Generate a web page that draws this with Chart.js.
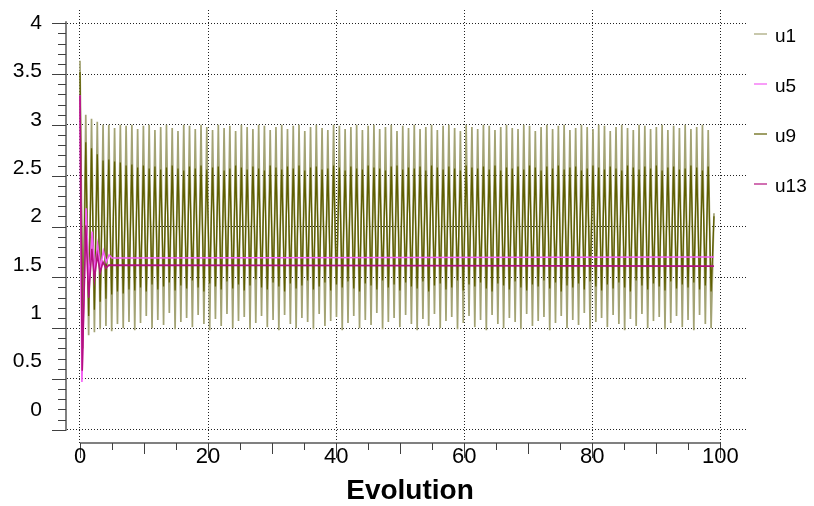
<!DOCTYPE html>
<html>
<head>
<meta charset="utf-8">
<title>Evolution</title>
<script src="https://cdn.jsdelivr.net/npm/chart.js@4/dist/chart.umd.min.js"></script>
<style>
  body { margin: 0; background: #fff; }
  canvas { display: block; }
</style>
</head>
<body>
<canvas id="evolutionChart" width="814" height="506"></canvas>
<script>
// sample times shared by u1 and u9 (one peak or one trough per entry)
const timeSteps = [
  0,0.45,0.9,1.35,1.8,2.25,2.7,3.15,3.6,4.05,4.5,4.95,5.4,5.85,6.3,6.75,7.2,7.65,8.1,8.55,
  9,9.45,9.9,10.35,10.8,11.25,11.7,12.15,12.6,13.05,13.5,13.95,14.4,14.85,15.3,15.75,16.2,16.65,17.1,17.55,
  18,18.45,18.9,19.35,19.8,20.25,20.7,21.15,21.6,22.05,22.5,22.95,23.4,23.85,24.3,24.75,25.2,25.65,26.1,26.55,
  27,27.45,27.9,28.35,28.8,29.25,29.7,30.15,30.6,31.05,31.5,31.95,32.4,32.85,33.3,33.75,34.2,34.65,35.1,35.55,
  36,36.45,36.9,37.35,37.8,38.25,38.7,39.15,39.6,40.05,40.5,40.95,41.4,41.85,42.3,42.75,43.2,43.65,44.1,44.55,
  45,45.45,45.9,46.35,46.8,47.25,47.7,48.15,48.6,49.05,49.5,49.95,50.4,50.85,51.3,51.75,52.2,52.65,53.1,53.55,
  54,54.45,54.9,55.35,55.8,56.25,56.7,57.15,57.6,58.05,58.5,58.95,59.4,59.85,60.3,60.75,61.2,61.65,62.1,62.55,
  63,63.45,63.9,64.35,64.8,65.25,65.7,66.15,66.6,67.05,67.5,67.95,68.4,68.85,69.3,69.75,70.2,70.65,71.1,71.55,
  72,72.45,72.9,73.35,73.8,74.25,74.7,75.15,75.6,76.05,76.5,76.95,77.4,77.85,78.3,78.75,79.2,79.65,80.1,80.55,
  81,81.45,81.9,82.35,82.8,83.25,83.7,84.15,84.6,85.05,85.5,85.95,86.4,86.85,87.3,87.75,88.2,88.65,89.1,89.55,
  90,90.45,90.9,91.35,91.8,92.25,92.7,93.15,93.6,94.05,94.5,94.95,95.4,95.85,96.3,96.75,97.2,97.65,98.1,98.55,
  99
];

const u1Peaks = [
  3.63,3.10,3.06,3.03,3.00,3.00,2.97,3.00,2.99,3.00,
  2.96,2.99,3.00,2.95,2.98,3.00,2.97,2.94,3.00,2.99,
  2.96,3.00,2.98,2.95,3.00,2.97,2.99,2.94,3.00,2.98,
  2.96,3.00,2.99,2.95,2.98,3.00,2.96,2.99,3.00,2.94,
  2.98,3.00,2.97,2.95,3.00,2.99,2.96,2.98,3.00,2.95,
  2.99,3.00,2.96,2.98,3.00,2.94,2.99,2.97,3.00,2.96,
  2.98,3.00,2.95,2.99,3.00,2.97,2.94,3.00,2.98,2.96,
  3.00,2.99,2.95,2.98,3.00,2.97,2.96,3.00,2.99,2.94,
  2.98,3.00,2.96,2.99,3.00,2.95,2.97,3.00,2.98,2.96,
  3.00,2.99,2.94,2.98,3.00,2.97,2.95,3.00,2.99,2.96,
  2.98,3.00,2.95,2.99,2.97,3.00,2.96,2.98,3.00,2.95,
  2.13
];
const u1Troughs = [
  0.88,0.93,0.96,0.99,1.02,0.97,1.04,1.00,1.06,0.98,
  1.05,1.12,1.00,1.08,1.03,1.15,0.99,1.06,1.10,1.01,
  1.13,1.04,0.98,1.09,1.02,1.14,1.00,1.07,1.11,0.99,
  1.05,1.12,1.01,1.08,0.98,1.13,1.04,1.00,1.10,1.06,
  0.99,1.14,1.02,1.07,1.11,0.98,1.05,1.12,1.00,1.08,
  1.03,1.15,0.99,1.06,1.10,1.01,1.13,1.04,0.98,1.09,
  1.02,1.14,1.00,1.07,1.11,0.99,1.05,1.12,1.01,1.08,
  0.98,1.13,1.04,1.00,1.10,1.06,0.99,1.14,1.02,1.07,
  1.11,0.98,1.05,1.12,1.00,1.08,1.03,1.15,0.99,1.06,
  1.10,1.01,1.13,1.04,0.98,1.09,1.02,1.14,1.00,1.07,
  1.11,0.99,1.05,1.12,1.01,1.08,0.98,1.13,1.04,1.00
];

const u9Peaks = [
  3.52,2.83,2.77,2.71,2.65,2.66,2.64,2.63,2.60,2.61,
  2.58,2.60,2.57,2.59,2.56,2.58,2.60,2.57,2.55,2.59,
  2.57,2.60,2.56,2.58,2.59,2.55,2.57,2.60,2.58,2.56,
  2.59,2.57,2.55,2.60,2.58,2.56,2.59,2.57,2.60,2.55,
  2.58,2.59,2.56,2.57,2.60,2.58,2.55,2.59,2.57,2.56,
  2.60,2.58,2.57,2.55,2.59,2.60,2.56,2.58,2.57,2.59,
  2.55,2.60,2.58,2.56,2.59,2.57,2.55,2.60,2.58,2.57,
  2.59,2.56,2.60,2.55,2.58,2.57,2.59,2.56,2.60,2.58,
  2.55,2.59,2.57,2.60,2.56,2.58,2.59,2.55,2.57,2.60,
  2.58,2.56,2.59,2.57,2.55,2.60,2.58,2.56,2.59,2.57,
  2.60,2.55,2.58,2.59,2.56,2.57,2.60,2.58,2.55,2.59,
  2.10
];
const u9Troughs = [
  0.80,1.12,1.18,1.26,1.29,1.33,1.36,1.34,1.38,1.37,
  1.40,1.36,1.43,1.38,1.41,1.45,1.37,1.42,1.39,1.47,
  1.40,1.36,1.44,1.41,1.38,1.46,1.39,1.43,1.37,1.42,
  1.48,1.40,1.38,1.45,1.41,1.36,1.44,1.39,1.42,1.47,
  1.38,1.41,1.45,1.37,1.43,1.40,1.46,1.39,1.36,1.44,
  1.42,1.38,1.47,1.40,1.43,1.37,1.45,1.41,1.39,1.46,
  1.36,1.42,1.44,1.38,1.40,1.47,1.37,1.43,1.41,1.45,
  1.39,1.36,1.44,1.42,1.38,1.46,1.40,1.37,1.43,1.41,
  1.47,1.39,1.45,1.36,1.42,1.40,1.44,1.38,1.46,1.41,
  1.37,1.43,1.39,1.45,1.40,1.36,1.47,1.42,1.38,1.44,
  1.41,1.37,1.46,1.39,1.43,1.40,1.45,1.38,1.42,1.36
];

const u5Times  = [0, 0.3, 0.95, 1.4, 1.9, 2.3, 2.75, 3.2, 3.65, 4.1, 4.55, 5.0, 99];
const u5Values = [3.29, 0.47, 2.18, 1.45, 1.95, 1.55, 1.82, 1.60, 1.76, 1.65, 1.72, 1.69, 1.70];

const u13Times  = [0, 0.35, 0.9, 1.35, 1.85, 2.25, 2.7, 3.15, 3.6, 4.05, 4.5, 99];
const u13Values = [3.29, 0.58, 2.01, 1.30, 1.78, 1.48, 1.72, 1.55, 1.65, 1.59, 1.62, 1.61];

const xTicks = [0, 20, 40, 60, 80, 100];
const yTicks = [0, 0.5, 1, 1.5, 2, 2.5, 3, 3.5, 4];
const yTickLabels = ['0', '0.5', '1', '1.5', '2', '2.5', '3', '3.5', '4'];
const xTitle = 'Evolution';

const FONT = '"Liberation Sans", Arial, sans-serif';

function zigzag(peaks, troughs) {
    return timeSteps.map((t, i) => ({
        x: t,
        y: i % 2 === 0 ? peaks[i / 2] : troughs[(i - 1) / 2]
    }));
}

function pairs(times, values) {
    return times.map((t, i) => ({ x: t, y: values[i] }));
}

// axes, labels, title and legend drawn in the old plotting-tool style
const axesPlugin = {
    id: 'oldAxes',
    afterDraw(chart) {
        const ctx = chart.ctx;
        const a = chart.chartArea;
        const x = chart.scales.x;
        const y = chart.scales.y;
        const yl = chart.scales.yl;
        ctx.save();

        // y axis
        ctx.strokeStyle = '#808080';
        ctx.lineWidth = 2;
        ctx.beginPath();
        ctx.moveTo(a.left - 1, y.getPixelForValue(4) - 2);
        ctx.lineTo(a.left - 1, y.getPixelForValue(0) + 1);
        ctx.stroke();
        ctx.strokeStyle = '#404040';
        ctx.lineWidth = 1;
        for (let k = 0; k <= 40; k++) {
            const py = Math.round(y.getPixelForValue(k / 10)) + 0.5;
            const len = k % 5 === 0 ? 15 : 9;
            ctx.beginPath();
            ctx.moveTo(a.left - len, py);
            ctx.lineTo(a.left - 1, py);
            ctx.stroke();
        }
        ctx.fillStyle = '#000';
        ctx.font = '21px ' + FONT;
        ctx.textAlign = 'right';
        ctx.textBaseline = 'middle';
        yTicks.forEach((v, i) => {
            ctx.fillText(yTickLabels[i], a.left - 25, yl.getPixelForValue(v));
        });

        // x axis
        ctx.strokeStyle = '#808080';
        ctx.lineWidth = 2;
        ctx.beginPath();
        ctx.moveTo(x.getPixelForValue(0), a.bottom);
        ctx.lineTo(x.getPixelForValue(100), a.bottom);
        ctx.stroke();
        ctx.strokeStyle = '#404040';
        ctx.lineWidth = 1;
        for (let k = 0; k <= 20; k++) {
            const v = k * 5;
            const px = Math.round(x.getPixelForValue(v)) + 0.5;
            const len = v % 20 === 0 ? 15 : (v % 10 === 0 ? 11 : 7);
            ctx.beginPath();
            ctx.moveTo(px, a.bottom);
            ctx.lineTo(px, a.bottom + len);
            ctx.stroke();
        }
        ctx.font = '22px ' + FONT;
        ctx.textAlign = 'center';
        ctx.textBaseline = 'top';
        xTicks.forEach(v => {
            ctx.fillText(String(v), x.getPixelForValue(v), a.bottom + 3);
        });

        // axis title
        ctx.font = 'bold 28px ' + FONT;
        ctx.textBaseline = 'alphabetic';
        ctx.fillText(xTitle, chart.width / 2 + 3, a.bottom + 56);

        // legend
        ctx.font = '19px ' + FONT;
        ctx.textAlign = 'left';
        ctx.textBaseline = 'middle';
        chart.data.datasets.forEach((ds, i) => {
            const rowY = a.top + 27 + i * 50;
            ctx.strokeStyle = ds.borderColor;
            ctx.lineWidth = 1.2;
            ctx.beginPath();
            ctx.moveTo(a.right + 8, rowY - 3);
            ctx.lineTo(a.right + 21, rowY - 3);
            ctx.stroke();
            ctx.fillStyle = '#000';
            ctx.fillText(ds.label, a.right + 29, rowY);
        });

        ctx.restore();
    }
};

const gridStyle = {
    color: '#222',
    lineWidth: 1,
    drawTicks: false,
    tickLength: 0
};

const ctx = document.getElementById('evolutionChart').getContext('2d');
new Chart(ctx, {
    type: 'line',
    data: {
        datasets: [{
            label: 'u1',
            data: zigzag(u1Peaks, u1Troughs),
            borderColor: '#a3a374',
            borderWidth: 1.7,
            order: 4
        }, {
            label: 'u5',
            data: pairs(u5Times, u5Values),
            borderColor: '#f45cf4',
            order: 2
        }, {
            label: 'u9',
            data: zigzag(u9Peaks, u9Troughs),
            borderColor: '#5e5e00',
            borderWidth: 1.3,
            order: 3
        }, {
            label: 'u13',
            data: pairs(u13Times, u13Values),
            borderColor: '#b3127f',
            order: 1
        }]
    },
    options: {
        responsive: false,
        animation: false,
        layout: {
            padding: { left: 67, right: 68, top: 10, bottom: 63 }
        },
        elements: {
            point: { radius: 0 },
            line: { tension: 0, borderWidth: 1.6, fill: false }
        },
        plugins: {
            legend: { display: false },
            tooltip: { enabled: false }
        },
        scales: {
            x: {
                type: 'linear',
                min: -2.03,
                max: 104,
                z: 1,
                afterFit(s) { s.height = 0; },
                afterBuildTicks(s) { s.ticks = xTicks.map(v => ({ value: v })); },
                ticks: { display: false },
                border: { display: false, dash: [1, 2] },
                grid: gridStyle
            },
            y: {
                type: 'linear',
                min: -0.13,
                max: 4.13,
                z: 1,
                afterFit(s) { s.width = 0; },
                afterBuildTicks(s) { s.ticks = yTicks.map(v => ({ value: v })); },
                ticks: { display: false },
                border: { display: false, dash: [1, 2] },
                grid: gridStyle
            },
            yl: {
                type: 'linear',
                min: -0.341,
                max: 4.134,
                display: false
            }
        }
    },
    plugins: [axesPlugin]
});
</script>
</body>
</html>
